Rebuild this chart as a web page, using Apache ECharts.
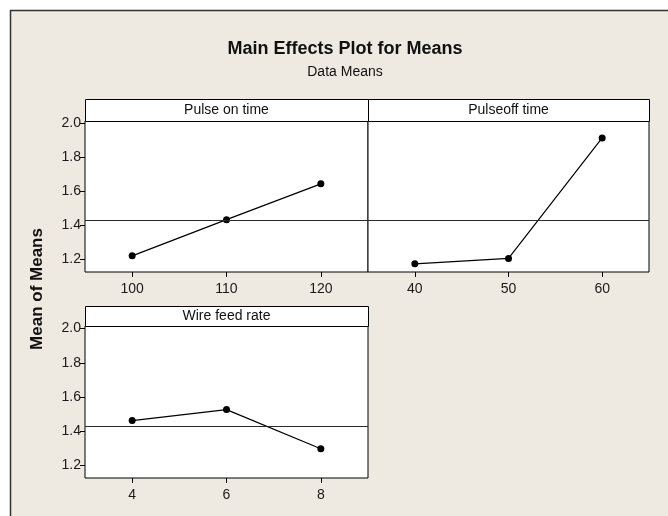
<!DOCTYPE html>
<html>
<head>
<meta charset="utf-8">
<script src="https://cdn.jsdelivr.net/npm/echarts@6/dist/echarts.min.js"></script>
<style>
  html, body { margin: 0; padding: 0; background: #fff; }
  #main { width: 668px; height: 516px; }
</style>
</head>
<body>
<div id="main"></div>
<script>
// factor levels and the data means at each level
const pulseOnLevels = [100, 110, 120];
const pulseOnMeans = [1.221, 1.434, 1.645];
const pulseOffLevels = [40, 50, 60];
const pulseOffMeans = [1.174, 1.206, 1.915];
const wireFeedLevels = [4, 6, 8];
const wireFeedMeans = [1.462, 1.526, 1.297];
const grandMean = 1.432;

const panelTitles = ['Pulse on time', 'Pulseoff time', 'Wire feed rate'];
const yTicks = [1.2, 1.4, 1.6, 1.8, 2.0];

const FONT = "'Liberation Sans', Arial, sans-serif";
const BG = '#eeeae1';

// panel boxes (plot area below the header strip)
const panels = [
  { left: 85, top: 121, width: 283, height: 151, head: 22, xMin: 95, xMax: 125 },
  { left: 368, top: 121, width: 281, height: 151, head: 22, xMin: 35, xMax: 65 },
  { left: 85, top: 326, width: 283, height: 152, head: 20, xMin: 3, xMax: 9 }
];
const levels = [pulseOnLevels, pulseOffLevels, wireFeedLevels];
const means = [pulseOnMeans, pulseOffMeans, wireFeedMeans];

const chart = echarts.init(document.getElementById('main'), null, { renderer: 'canvas' });

const grids = panels.map(p => ({
  left: p.left, top: p.top, width: p.width, height: p.height,
  show: true, backgroundColor: '#fff', borderColor: '#000', borderWidth: 1
}));

const xAxes = panels.map((p, i) => ({
  type: 'value', gridIndex: i, min: p.xMin, max: p.xMax,
  axisLine: { show: false },
  splitLine: { show: false },
  axisTick: { show: true, length: 5, customValues: levels[i], lineStyle: { color: '#000' } },
  axisLabel: {
    show: true, customValues: levels[i], margin: 10,
    color: '#1a1a1a', fontFamily: FONT, fontSize: 14
  }
}));

const yAxes = panels.map((p, i) => ({
  type: 'value', gridIndex: i, min: 1.126, max: 2.015,
  axisLine: { show: false },
  splitLine: { show: false },
  axisTick: { show: i !== 1, length: 5, customValues: yTicks, lineStyle: { color: '#000' } },
  axisLabel: {
    show: i !== 1, customValues: yTicks, margin: 4,
    color: '#1a1a1a', fontFamily: FONT, fontSize: 14,
    formatter: v => v.toFixed(1)
  }
}));

const series = panels.map((p, i) => ({
  type: 'line',
  xAxisIndex: i, yAxisIndex: i,
  data: levels[i].map((lv, k) => [lv, means[i][k]]),
  symbol: 'circle', symbolSize: 7,
  itemStyle: { color: '#000' },
  lineStyle: { color: '#000', width: 1.2 },
  animation: false,
  markLine: {
    silent: true, symbol: 'none', animation: false,
    label: { show: false },
    lineStyle: { color: '#2a2a2a', width: 1, type: 'solid' },
    data: [{ yAxis: grandMean }]
  }
}));

// header strips, frame and titles
const graphic = [
  { type: 'rect', shape: { x: 0, y: 0, width: 668, height: 10 }, style: { fill: '#fff' }, silent: true },
  { type: 'rect', shape: { x: 0, y: 0, width: 10, height: 516 }, style: { fill: '#fff' }, silent: true },
  { type: 'line', shape: { x1: 10, y1: 10.5, x2: 668, y2: 10.5 }, style: { stroke: '#333', lineWidth: 1.5 }, silent: true },
  { type: 'line', shape: { x1: 10.5, y1: 10, x2: 10.5, y2: 516 }, style: { stroke: '#333', lineWidth: 1.5 }, silent: true },
  {
    type: 'text', x: 345, y: 49, silent: true,
    style: { text: 'Main Effects Plot for Means', fontFamily: FONT, fontSize: 18, fontWeight: 'bold',
             fill: '#111', align: 'center', verticalAlign: 'middle' }
  },
  {
    type: 'text', x: 345, y: 72, silent: true,
    style: { text: 'Data Means', fontFamily: FONT, fontSize: 14, fill: '#111',
             align: 'center', verticalAlign: 'middle' }
  },
  {
    type: 'text', x: 37, y: 289, rotation: Math.PI / 2, silent: true,
    style: { text: 'Mean of Means', fontFamily: FONT, fontSize: 17, fontWeight: 'bold',
             fill: '#111', align: 'center', verticalAlign: 'middle' }
  }
];
panels.forEach((p, i) => {
  graphic.push({
    type: 'rect', silent: true, z: 5,
    shape: { x: p.left + 0.5, y: p.top - p.head + 0.5, width: p.width, height: p.head },
    style: { fill: '#fff', stroke: '#000', lineWidth: 1 }
  });
  graphic.push({
    type: 'text', silent: true, z: 6,
    x: p.left + p.width / 2, y: p.top - p.head / 2,
    style: { text: panelTitles[i], fontFamily: FONT, fontSize: 14, fill: '#111',
             align: 'center', verticalAlign: 'middle' }
  });
});

chart.setOption({
  backgroundColor: BG,
  animation: false,
  grid: grids,
  xAxis: xAxes,
  yAxis: yAxes,
  series: series,
  graphic: graphic
});
</script>
</body>
</html>
